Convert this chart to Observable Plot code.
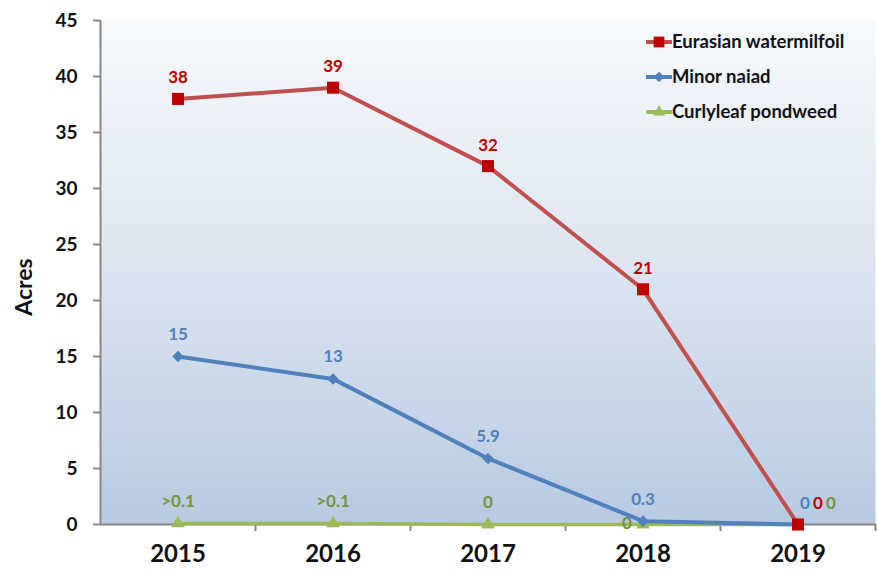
<!DOCTYPE html>
<html>
<head>
<meta charset="utf-8">
<script src="https://cdn.jsdelivr.net/npm/d3@7"></script>
<script src="https://cdn.jsdelivr.net/npm/@observablehq/plot@0.6"></script>
<style>
  html, body { margin: 0; padding: 0; background: #fff; }
  #wrap { position: relative; width: 877px; height: 573px; font-family: Lato, "Open Sans", sans-serif; }
  #legend { position: absolute; left: 640px; top: 28px; }
</style>
</head>
<body>
<div id="wrap"></div>
<script>
const years = [2015, 2016, 2017, 2018, 2019];
const watermilfoil = [38, 39, 32, 21, 0];
const naiad = [15, 13, 5.9, 0.3, 0];
const curlyleaf = [0.1, 0.1, 0, 0, 0];
const watermilfoilLabels = ["38", "39", "32", "21", "0"];
const naiadLabels = ["15", "13", "5.9", "0.3", "0"];
const curlyleafLabels = [">0.1", ">0.1", "0", "0", "0"];
const seriesNames = ["Eurasian watermilfoil", "Minor naiad", "Curlyleaf pondweed"];
const yTicks = [0, 5, 10, 15, 20, 25, 30, 35, 40, 45];

const colors = {line: ["#c0504d", "#4f81bd", "#9bbb59"], text: ["#c00000", "#4f81bd", "#77933c"]};
const symbols = ["square", "diamond2", "triangle"];
const radii = [6.8, 5.2, 5];

const rows = (vals, labels, s) => years.map((yr, i) => ({year: yr, value: vals[i], label: labels[i], s}));
const w = rows(watermilfoil, watermilfoilLabels, 0);
const n = rows(naiad, naiadLabels, 1);
const c = rows(curlyleaf, curlyleafLabels, 2);
const x0 = years[0] - 0.5;
const last = years[years.length - 1];
const bounds = years.map(y => y + 0.5);

const textBase = {x: "year", y: "value", text: "label", fontWeight: "bold", fontSize: 17};

const chart = Plot.plot({
  width: 877,
  height: 573,
  marginLeft: 100,
  marginRight: 2,
  marginTop: 20,
  marginBottom: 49,
  style: {fontFamily: "Lato, 'Open Sans', sans-serif", background: "transparent", overflow: "visible"},
  x: {type: "linear", domain: [x0, last + 0.5], axis: null},
  y: {type: "linear", domain: [0, 45], axis: null},
  marks: [
    Plot.frame({fill: "url(#bgGrad)", stroke: "none"}),
    // y axis
    Plot.ruleY(yTicks, {y: d => d, x1: x0, x2: x0, insetLeft: -7, stroke: "#878787", strokeWidth: 2}),
    Plot.ruleX([x0], {stroke: "#878787", strokeWidth: 2}),
    Plot.text(yTicks, {x: x0, y: d => d, text: d => String(d), textAnchor: "end", dx: -23, fontSize: 19, fontWeight: "bold", fill: "#111"}),
    // x axis
    Plot.ruleX(bounds, {x: d => d, y1: 0, y2: 0, insetBottom: -7, stroke: "#878787", strokeWidth: 2}),
    Plot.ruleY([0], {stroke: "#878787", strokeWidth: 2}),
    Plot.text(years, {x: d => d, y: 0, text: d => String(d), dy: 30, fontSize: 24, fontWeight: "bold", fill: "#111"}),
    // series lines
    Plot.line(c, {x: "year", y: "value", stroke: colors.line[2], strokeWidth: 3.5}),
    Plot.line(n, {x: "year", y: "value", stroke: colors.line[1], strokeWidth: 4}),
    Plot.line(w, {x: "year", y: "value", stroke: colors.line[0], strokeWidth: 4}),
    Plot.dot(c, {x: "year", y: "value", symbol: symbols[2], r: radii[2], fill: colors.line[2], stroke: "none"}),
    Plot.dot(n, {x: "year", y: "value", symbol: symbols[1], r: radii[1], fill: colors.line[1], stroke: "none"}),
    Plot.dot(w, {x: "year", y: "value", symbol: symbols[0], r: radii[0], fill: colors.text[0], stroke: "none"}),
    // data labels
    Plot.text(w.filter(d => d.year !== last), {...textBase, fill: colors.text[0], dy: -21}),
    Plot.text(n.filter(d => d.year !== last), {...textBase, fill: colors.text[1], dy: -22}),
    Plot.text(c.filter(d => d.year < 2018), {...textBase, fill: colors.text[2], dy: -22}),
    Plot.text(c.filter(d => d.year === 2018), {...textBase, fill: colors.text[2], dx: -16, dy: -1}),
    Plot.text(n.filter(d => d.year === last), {...textBase, fill: colors.text[1], dx: 7, dy: -21}),
    Plot.text(w.filter(d => d.year === last), {...textBase, fill: colors.text[0], dx: 20, dy: -21}),
    Plot.text(c.filter(d => d.year === last), {...textBase, fill: colors.text[2], dx: 33, dy: -21}),
    // y label
    Plot.text(["Acres"], {x: x0, y: 21.2, dx: -76, text: d => d, rotate: -90, fontSize: 23, fontWeight: "bold", fill: "#111"})
  ]
});

// gradient defs
const defs = d3.select(chart).insert("defs", ":first-child");
const g = defs.append("linearGradient").attr("id", "bgGrad").attr("x1", 0).attr("y1", 0).attr("x2", 0).attr("y2", 1);
g.append("stop").attr("offset", "0%").attr("stop-color", "#f7f9fc");
g.append("stop").attr("offset", "50%").attr("stop-color", "#dbe4f0");
g.append("stop").attr("offset", "100%").attr("stop-color", "#b7cae2");

document.getElementById("wrap").appendChild(chart);

// legend
const leg = d3.select("#wrap").append("svg").attr("id", "legend").attr("width", 236).attr("height", 110);
seriesNames.forEach((name, i) => {
  const gy = 14 + i * 35;
  const row = leg.append("g").attr("transform", `translate(0,${gy})`);
  row.append("line").attr("x1", 6).attr("x2", 32).attr("y1", 0).attr("y2", 0).attr("stroke", colors.line[i]).attr("stroke-width", 4);
  row.append("path").attr("transform", "translate(19,0)")
     .attr("d", d3.symbol(i === 0 ? d3.symbolSquare : i === 1 ? d3.symbolDiamond2 : d3.symbolTriangle, Math.PI * radii[i] * radii[i] * 0.8)())
     .attr("fill", i === 0 ? colors.text[0] : colors.line[i]);
  row.append("text").attr("x", 32).attr("y", 0).attr("dy", "0.35em")
     .attr("font-family", "Lato, 'Open Sans', sans-serif").attr("font-weight", "bold").attr("font-size", 18.5).attr("fill", "#111")
     .text(name);
});
</script>
</body>
</html>
